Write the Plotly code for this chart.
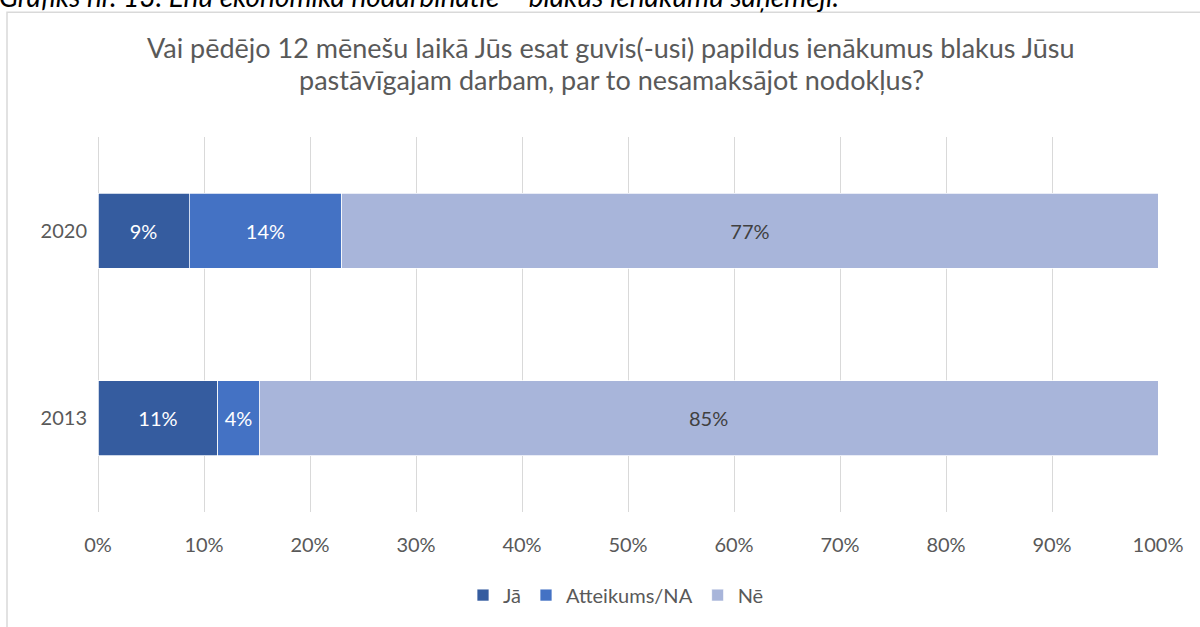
import plotly.graph_objects as go

years = ["2013", "2020"]
series_names = ["Jā", "Atteikums/NA", "Nē"]
ja = [11.3, 8.6]
atteikums = [3.9, 14.4]
ne = [84.8, 77.0]
colors = ["#355C9F", "#4472C4", "#A8B5DA"]
text_colors = ["#FFFFFF", "#FFFFFF", "#404040"]
x_ticks = [0, 10, 20, 30, 40, 50, 60, 70, 80, 90, 100]
x_tick_labels = ["0%", "10%", "20%", "30%", "40%", "50%", "60%", "70%", "80%", "90%", "100%"]

title_line1 = "Vai pēdējo 12 mēnešu laikā Jūs esat guvis(-usi) papildus ienākumus blakus Jūsu"
title_line2 = "pastāvīgajam darbam, par to nesamaksājot nodokļus?"
caption = "Grafiks nr. 13. Ēnu ekonomika nodarbinātie – blakus ienākumu saņēmēji."

FONT = "Lato"
GREY = "#595959"

fig = go.Figure()
for name, vals, col, tcol in zip(series_names, [ja, atteikums, ne], colors, text_colors):
    fig.add_trace(go.Bar(
        y=years, x=vals, name=name, orientation="h",
        marker=dict(color=col, line=dict(color="#FFFFFF", width=0.75)),
        texttemplate="%{x:.0f}%", textposition="inside", insidetextanchor="middle",
        textfont=dict(color=tcol, size=20, family=FONT),
        hoverinfo="skip",
    ))

L, R, T, B = 98, 42, 137, 111
W, H = 1200, 627
pw, ph = W - L - R, H - T - B

def px(x):
    return (x - L) / pw

def py(y):
    return (H - B - y) / ph

fig.update_layout(
    barmode="stack",
    bargap=0.6,
    width=W, height=H,
    margin=dict(l=L, r=R, t=T, b=B),
    paper_bgcolor="white", plot_bgcolor="white",
    font=dict(family=FONT, color=GREY, size=20),
    xaxis=dict(
        range=[0, 100], tickmode="array", tickvals=x_ticks, ticktext=x_tick_labels,
        showgrid=True, gridcolor="#D9D9D9", gridwidth=1,
        zeroline=True, zerolinecolor="#D9D9D9", zerolinewidth=1,
        showline=False, ticks="", ticklabelstandoff=19,
        tickfont=dict(size=20, color=GREY, family=FONT),
        fixedrange=True,
    ),
    yaxis=dict(
        categoryorder="array", categoryarray=years,
        showgrid=False, zeroline=False, showline=False, ticks="",
        ticklabelstandoff=10,
        tickfont=dict(size=20, color=GREY, family=FONT),
        fixedrange=True,
    ),
    legend=dict(
        orientation="h", x=px(616), xanchor="center", y=py(600), yanchor="middle",
        traceorder="normal", font=dict(size=20, color=GREY, family=FONT),
        itemwidth=30,
    ),
    showlegend=True,
    shapes=[dict(
        type="rect", xref="paper", yref="paper",
        x0=px(7), x1=px(1215), y0=py(640), y1=py(11),
        line=dict(color="#D9D9D9", width=1.5), fillcolor="rgba(0,0,0,0)", layer="below",
    )],
    annotations=[
        dict(text=title_line1, xref="paper", yref="paper", x=px(611), y=py(47),
             xanchor="center", yanchor="middle", showarrow=False,
             font=dict(size=27, color=GREY, family=FONT)),
        dict(text=title_line2, xref="paper", yref="paper", x=px(611), y=py(79),
             xanchor="center", yanchor="middle", showarrow=False,
             font=dict(size=27, color=GREY, family=FONT)),
        dict(text="<i>" + caption + "</i>", xref="paper", yref="paper", x=px(-3), y=py(-6),
             xanchor="left", yanchor="middle", showarrow=False,
             font=dict(size=28, color="#000000", family=FONT)),
    ],
)

fig.write_html("out.html", config={"displayModeBar": False},
               post_script="document.body.style.margin='0px';")
